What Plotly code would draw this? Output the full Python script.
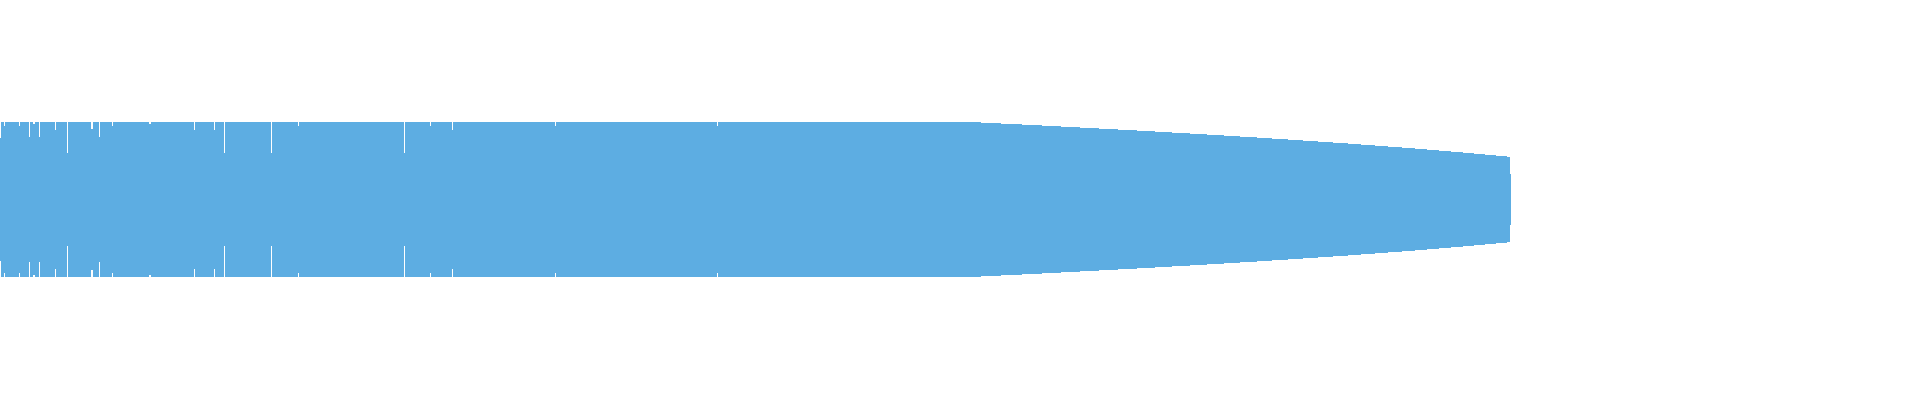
import numpy as np
import plotly.graph_objects as go

# waveform envelope: one bar per segment, frame = segment start, amp = peak level (1.0 = clipped)
plateau_frame = [0, 1, 4, 5, 19, 20, 29, 30, 33, 35, 39, 40, 55, 56, 67, 68,
                 91, 93, 99, 100, 112, 113, 149, 151, 194, 195, 214, 215,
                 224, 225, 271, 272, 298, 299, 404, 405, 430, 431, 452, 453,
                 555, 556, 717, 718]
plateau_amp = [0.794, 1.0, 0.948, 1.0, 0.948, 1.0, 0.806, 1.0, 0.974, 1.0,
               0.806, 1.0, 0.897, 1.0, 0.600, 1.0, 0.910, 1.0, 0.806, 1.0,
               0.948, 1.0, 0.974, 1.0, 0.897, 1.0, 0.897, 1.0, 0.600, 1.0,
               0.600, 1.0, 0.948, 1.0, 0.600, 1.0, 0.948, 1.0, 0.897, 1.0,
               0.948, 1.0, 0.948, 1.0]

# fade-out at the end
fade_frame = [981, 1001, 1022, 1042, 1061, 1080, 1099, 1118, 1137, 1155,
              1172, 1190, 1207, 1224, 1240, 1257, 1272, 1288, 1303, 1318,
              1333, 1348, 1361, 1375, 1388, 1402, 1415, 1427, 1439, 1451,
              1463, 1474, 1485, 1496, 1507, 1510]
fade_amp = [0.987, 0.974, 0.961, 0.948, 0.935, 0.923, 0.910, 0.897, 0.884, 0.871,
            0.858, 0.845, 0.832, 0.819, 0.806, 0.794, 0.781, 0.768, 0.755, 0.742,
            0.729, 0.716, 0.703, 0.690, 0.677, 0.665, 0.652, 0.639, 0.626, 0.613,
            0.600, 0.587, 0.574, 0.561, 0.548, 0.329]
END_FRAME = 1511

COLOR = "#5DADE2"

frames = np.array(plateau_frame + fade_frame, dtype=float)
amps = np.array(plateau_amp + fade_amp)
widths = np.diff(np.append(frames, END_FRAME))

fig = go.Figure(go.Bar(
    x=frames, y=2 * amps, base=-amps, width=widths, offset=0,
    marker=dict(color=COLOR, line=dict(width=0)),
    hoverinfo="skip", showlegend=False))

fig.update_layout(
    width=1920, height=400,
    margin=dict(l=0, r=0, t=0, b=0),
    bargap=0,
    paper_bgcolor="white", plot_bgcolor="white",
    xaxis=dict(range=[0, 1920], visible=False, fixedrange=True),
    yaxis=dict(range=[-2.587, 2.574], visible=False, fixedrange=True),
)

# page body has an 8px default margin, drop it so the chart sits flush
fig.write_html("out.html", config={"displayModeBar": False},
               post_script="document.body.style.margin='0px';")
